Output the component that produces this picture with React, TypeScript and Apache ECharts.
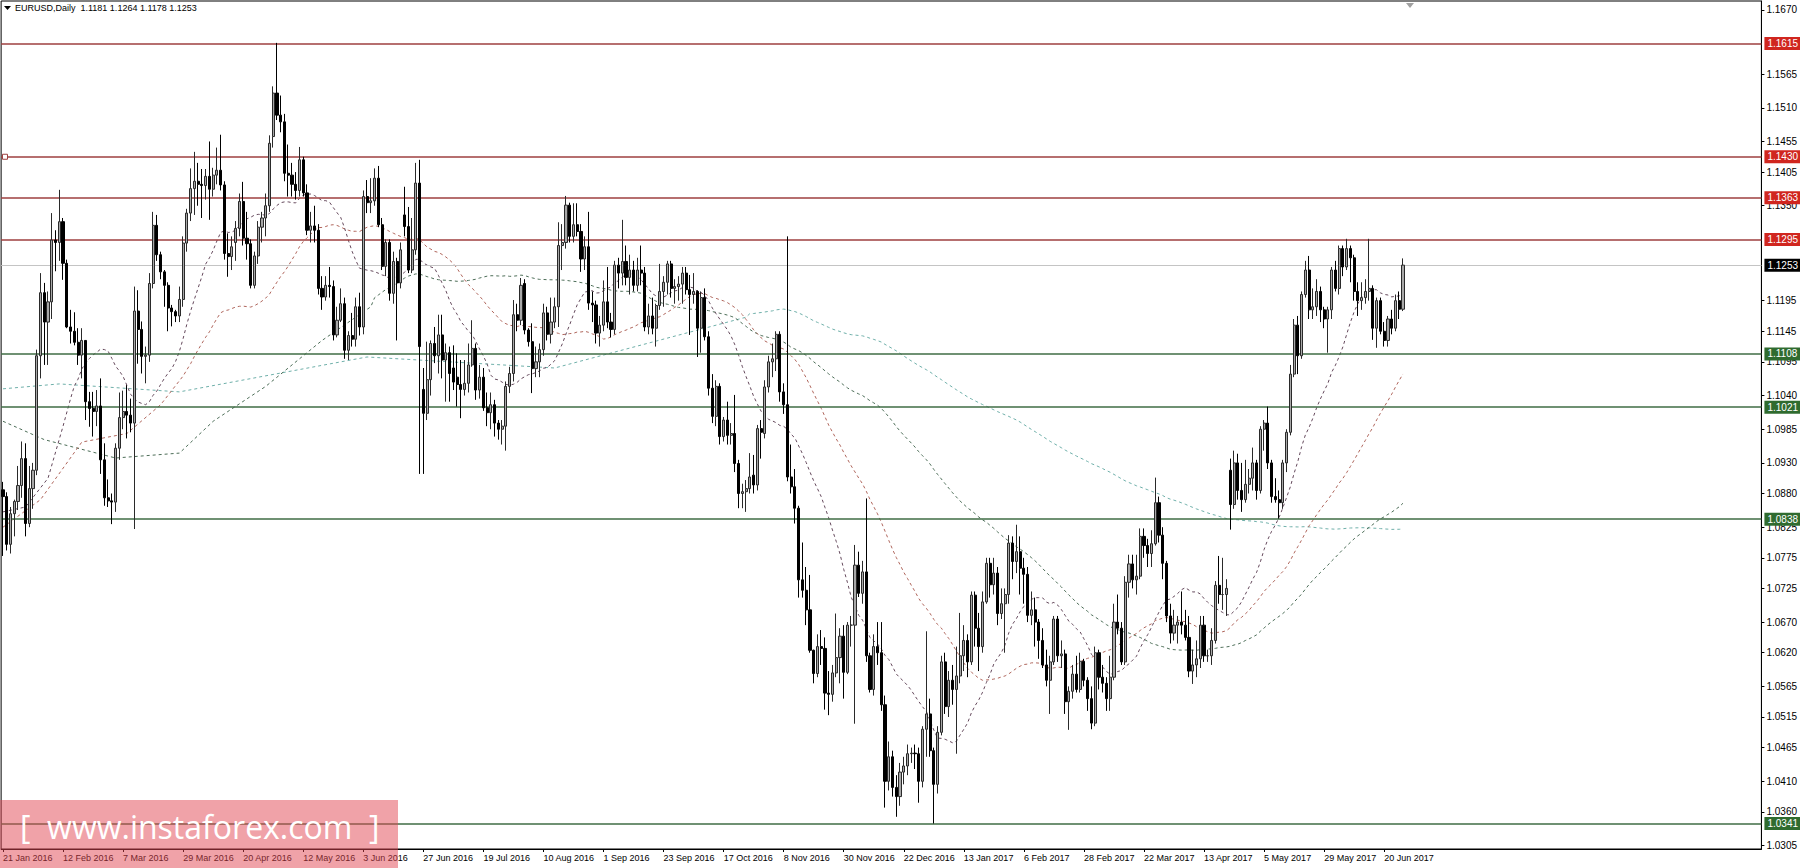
import React, { useEffect, useRef } from "react";
import * as echarts from "echarts";

// ---------- axis texts ----------
const DATE_LABELS = [
  "21 Jan 2016", "12 Feb 2016", "7 Mar 2016", "29 Mar 2016", "20 Apr 2016", "12 May 2016",
  "3 Jun 2016", "27 Jun 2016", "19 Jul 2016", "10 Aug 2016", "1 Sep 2016", "23 Sep 2016",
  "17 Oct 2016", "8 Nov 2016", "30 Nov 2016", "22 Dec 2016", "13 Jan 2017", "6 Feb 2017",
  "28 Feb 2017", "22 Mar 2017", "13 Apr 2017", "5 May 2017", "29 May 2017", "20 Jun 2017",
];
const BARS_PER_LABEL = 16;
const SLOT_COUNT = 469;

const Y_TICKS = [
  1.167, 1.1565, 1.151, 1.1455, 1.1405, 1.135, 1.1195, 1.1145, 1.1095, 1.104, 1.0985, 1.093,
  1.088, 1.0825, 1.0775, 1.0725, 1.067, 1.062, 1.0565, 1.0515, 1.0465, 1.041, 1.036, 1.0305,
];
const Y_MIN = 1.02994;
const Y_MAX = 1.16844;

const RED_LEVELS = [1.1615, 1.143, 1.1363, 1.1295];
const GREEN_LEVELS = [1.1108, 1.1021, 1.0838, 1.0341];
const BID_LEVEL = 1.1253;

const TITLE = "EURUSD,Daily  1.1181 1.1264 1.1178 1.1253";

// ---------- daily candles [open, high, low, close] ----------
const JAN16 = [
  [1.0886, 1.0899, 1.0778, 1.0875], [1.0875, 1.0882, 1.0787, 1.0797], [1.0797, 1.0858, 1.0782, 1.0847],
  [1.0847, 1.087, 1.081, 1.0867], [1.0867, 1.0925, 1.0853, 1.0893], [1.0893, 1.0965, 1.0873, 1.0937],
  [1.0937, 1.0962, 1.081, 1.0831],
];
const FEB16 = [
  [1.0831, 1.0925, 1.0825, 1.0888], [1.0888, 1.093, 1.0855, 1.0918], [1.0918, 1.1115, 1.091, 1.1105],
  [1.1105, 1.124, 1.1068, 1.1208], [1.1208, 1.1224, 1.109, 1.116], [1.116, 1.121, 1.109, 1.1193],
  [1.1193, 1.1338, 1.1165, 1.1294], [1.1294, 1.131, 1.1243, 1.129], [1.129, 1.1376, 1.126, 1.1324],
  [1.1324, 1.133, 1.1229, 1.1256], [1.1256, 1.1262, 1.115, 1.1152], [1.1152, 1.118, 1.1125, 1.1145],
  [1.1145, 1.1176, 1.1122, 1.1127], [1.1127, 1.115, 1.109, 1.1106], [1.1106, 1.115, 1.1068, 1.113],
  [1.113, 1.113, 1.1, 1.103], [1.103, 1.1046, 1.0989, 1.1019], [1.1019, 1.1046, 1.0973, 1.1014],
  [1.1014, 1.1049, 1.099, 1.1023], [1.1023, 1.1068, 1.0912, 1.0935], [1.0935, 1.0962, 1.086, 1.0873],
];
const MAR16 = [
  [1.0873, 1.0903, 1.0858, 1.0868], [1.0868, 1.088, 1.083, 1.0866], [1.0866, 1.0962, 1.085, 1.0954],
  [1.0954, 1.1045, 1.0935, 1.1004], [1.1004, 1.1048, 1.0985, 1.1014], [1.1014, 1.1057, 1.097, 1.1008],
  [1.1008, 1.1035, 1.098, 1.0995], [1.0995, 1.1218, 1.0822, 1.1178], [1.1178, 1.1212, 1.1092, 1.1148],
  [1.1148, 1.1161, 1.1076, 1.1104], [1.1104, 1.112, 1.106, 1.1106], [1.1106, 1.124, 1.1095, 1.1223],
  [1.1223, 1.134, 1.1215, 1.1318], [1.1318, 1.1335, 1.126, 1.127], [1.127, 1.1275, 1.123, 1.1242],
  [1.1242, 1.1245, 1.1185, 1.122], [1.122, 1.1225, 1.1145, 1.1183], [1.1183, 1.1188, 1.1153, 1.1177],
  [1.1177, 1.118, 1.116, 1.117], [1.117, 1.1218, 1.116, 1.1197], [1.1197, 1.13, 1.1185, 1.1289],
  [1.1289, 1.1345, 1.1275, 1.1338], [1.1338, 1.1411, 1.1325, 1.1378],
];
const APR16 = [
  [1.1378, 1.1438, 1.1335, 1.139], [1.139, 1.142, 1.135, 1.1385], [1.1385, 1.141, 1.133, 1.1383],
  [1.1383, 1.141, 1.136, 1.1398], [1.1398, 1.1455, 1.1327, 1.1377], [1.1377, 1.1412, 1.1365, 1.14],
  [1.14, 1.1445, 1.1385, 1.1408], [1.1408, 1.1466, 1.1375, 1.1384], [1.1384, 1.139, 1.1262, 1.1272],
  [1.1272, 1.1305, 1.1234, 1.1267], [1.1267, 1.13, 1.1245, 1.1283], [1.129, 1.1325, 1.126, 1.1313],
  [1.1313, 1.137, 1.13, 1.1357], [1.1357, 1.1389, 1.1285, 1.1297], [1.1297, 1.134, 1.1262, 1.1288],
  [1.1288, 1.1295, 1.1215, 1.122], [1.122, 1.1275, 1.1215, 1.1268], [1.1268, 1.1325, 1.1255, 1.1315],
  [1.1315, 1.134, 1.129, 1.133], [1.133, 1.137, 1.13, 1.135], [1.135, 1.1465, 1.134, 1.1452],
];
const MAY16 = [
  [1.1463, 1.1545, 1.1445, 1.1534], [1.1534, 1.1616, 1.149, 1.1498], [1.1498, 1.153, 1.147, 1.1487],
  [1.1487, 1.15, 1.139, 1.1403], [1.1403, 1.145, 1.1365, 1.14], [1.14, 1.142, 1.1365, 1.1385],
  [1.1385, 1.1405, 1.136, 1.1375], [1.1375, 1.1446, 1.1365, 1.1425], [1.1425, 1.143, 1.1365, 1.1371],
  [1.1371, 1.1385, 1.1302, 1.131], [1.131, 1.134, 1.129, 1.1317], [1.1317, 1.135, 1.129, 1.131],
  [1.131, 1.132, 1.1205, 1.1215], [1.1215, 1.1235, 1.118, 1.1201], [1.1201, 1.1235, 1.1195, 1.122],
  [1.122, 1.125, 1.12, 1.1218], [1.1218, 1.1228, 1.113, 1.1139], [1.1139, 1.1185, 1.1135, 1.1163],
  [1.1163, 1.1215, 1.116, 1.119], [1.119, 1.12, 1.11, 1.1114], [1.1114, 1.1145, 1.1098, 1.1138],
  [1.1138, 1.1175, 1.112, 1.1132],
];
const JUN16 = [
  [1.1132, 1.12, 1.112, 1.1185], [1.1185, 1.1208, 1.1138, 1.1152], [1.1152, 1.1375, 1.114, 1.1365],
  [1.1365, 1.1392, 1.1338, 1.1355], [1.1355, 1.1395, 1.1338, 1.1358], [1.1358, 1.1411, 1.135, 1.1395],
  [1.1395, 1.1415, 1.1315, 1.1319], [1.1319, 1.133, 1.1245, 1.1251], [1.1251, 1.1295, 1.1235, 1.129],
  [1.129, 1.1295, 1.1195, 1.1207], [1.1207, 1.1275, 1.119, 1.1259], [1.1259, 1.1265, 1.113, 1.1224],
  [1.1224, 1.129, 1.1215, 1.1278], [1.1335, 1.1381, 1.13, 1.1316], [1.1316, 1.1348, 1.124, 1.1245],
  [1.1245, 1.133, 1.124, 1.1278], [1.1278, 1.142, 1.127, 1.1387], [1.1387, 1.1425, 1.0912, 1.112],
  [1.105, 1.1085, 1.0912, 1.1011], [1.1011, 1.1128, 1.1, 1.1066], [1.1066, 1.113, 1.104, 1.1125],
  [1.1125, 1.1152, 1.1093, 1.1105],
];
const JUL16 = [
  [1.1105, 1.1172, 1.1076, 1.1139], [1.1139, 1.1172, 1.1068, 1.1098], [1.1098, 1.1125, 1.103, 1.111],
  [1.111, 1.112, 1.103, 1.1076], [1.1085, 1.1122, 1.1049, 1.1062], [1.107, 1.1109, 1.1022, 1.1058],
  [1.1058, 1.1098, 1.1003, 1.105], [1.105, 1.1098, 1.104, 1.106], [1.106, 1.1125, 1.1045, 1.109],
  [1.109, 1.1163, 1.1087, 1.1117], [1.1117, 1.1125, 1.1033, 1.1049], [1.1049, 1.109, 1.1035, 1.107],
  [1.107, 1.1085, 1.1015, 1.102], [1.102, 1.1045, 1.099, 1.1012], [1.1012, 1.1045, 1.0985, 1.1025],
  [1.1025, 1.1033, 1.0973, 1.0995], [1.0995, 1.1, 1.0968, 1.0985], [1.0985, 1.1, 1.096, 1.099],
  [1.099, 1.1063, 1.095, 1.1055], [1.1055, 1.1087, 1.1044, 1.1076], [1.1076, 1.1196, 1.1063, 1.1172],
];
const AUG16 = [
  [1.1172, 1.119, 1.1145, 1.1163], [1.1163, 1.1232, 1.1155, 1.122], [1.1223, 1.123, 1.114, 1.1147],
  [1.1147, 1.115, 1.112, 1.1128], [1.1128, 1.1158, 1.1044, 1.1084], [1.1084, 1.112, 1.107, 1.1095],
  [1.1095, 1.1125, 1.107, 1.1115], [1.1115, 1.119, 1.1105, 1.1175], [1.1175, 1.1185, 1.113, 1.114],
  [1.114, 1.12, 1.1125, 1.116], [1.116, 1.12, 1.115, 1.1185], [1.1185, 1.1323, 1.1152, 1.1285],
  [1.1285, 1.132, 1.1245, 1.129], [1.129, 1.1366, 1.128, 1.1351], [1.1351, 1.1355, 1.129, 1.13],
  [1.13, 1.1354, 1.129, 1.1319], [1.1319, 1.1354, 1.13, 1.1308], [1.1308, 1.132, 1.1242, 1.1263],
  [1.1263, 1.13, 1.1245, 1.1283], [1.1283, 1.134, 1.118, 1.1191], [1.1191, 1.121, 1.116, 1.1188],
  [1.1188, 1.1195, 1.1125, 1.1142], [1.1142, 1.117, 1.112, 1.1155],
];
const SEP16 = [
  [1.1155, 1.1228, 1.1145, 1.1193], [1.1193, 1.125, 1.115, 1.116], [1.116, 1.1175, 1.1135, 1.1148],
  [1.1148, 1.126, 1.114, 1.1253], [1.1253, 1.1265, 1.1215, 1.124], [1.124, 1.1327, 1.122, 1.1259],
  [1.1259, 1.1285, 1.122, 1.1233], [1.1233, 1.127, 1.1205, 1.1245], [1.1245, 1.126, 1.121, 1.122],
  [1.122, 1.1265, 1.121, 1.1245], [1.1245, 1.1285, 1.122, 1.124], [1.124, 1.125, 1.1145, 1.1152],
  [1.1152, 1.119, 1.114, 1.117], [1.117, 1.12, 1.114, 1.115], [1.115, 1.119, 1.112, 1.1187],
  [1.1187, 1.1255, 1.118, 1.121], [1.121, 1.1235, 1.1185, 1.1225], [1.1225, 1.126, 1.1205, 1.1255],
  [1.1255, 1.126, 1.12, 1.1215], [1.1215, 1.123, 1.119, 1.1218], [1.1218, 1.1235, 1.1195, 1.1222],
  [1.1222, 1.125, 1.119, 1.124],
];
const OCT16 = [
  [1.124, 1.125, 1.1205, 1.1213], [1.1213, 1.1237, 1.1139, 1.1205], [1.1205, 1.124, 1.119, 1.121],
  [1.121, 1.1212, 1.1103, 1.115], [1.115, 1.121, 1.111, 1.12], [1.12, 1.1215, 1.113, 1.1136],
  [1.1136, 1.1145, 1.104, 1.1052], [1.1052, 1.1075, 1.0995, 1.1006], [1.1006, 1.1065, 1.099, 1.1055],
  [1.1055, 1.106, 1.096, 1.0973], [1.0973, 1.1005, 1.0965, 1.1], [1.1, 1.103, 1.096, 1.0975],
  [1.0975, 1.0995, 1.096, 1.0978], [1.0978, 1.1041, 1.0915, 1.0929], [1.0929, 1.0935, 1.0856, 1.088],
  [1.088, 1.0896, 1.0856, 1.0883], [1.0883, 1.0902, 1.085, 1.0888], [1.0888, 1.0946, 1.088, 1.0907],
  [1.091, 1.0943, 1.088, 1.0894], [1.0894, 1.0992, 1.0885, 1.0986], [1.0986, 1.1, 1.0937, 1.098],
];
const NOV16 = [
  [1.0978, 1.1065, 1.097, 1.1054], [1.1054, 1.1105, 1.1045, 1.1095], [1.1095, 1.1125, 1.107, 1.11],
  [1.11, 1.1145, 1.108, 1.114], [1.114, 1.1145, 1.103, 1.1046], [1.1046, 1.106, 1.101, 1.1025],
  [1.1025, 1.13, 1.09, 1.0907], [1.0907, 1.096, 1.088, 1.0891], [1.0891, 1.092, 1.0831, 1.0856],
  [1.0856, 1.086, 1.071, 1.0739], [1.0739, 1.08, 1.071, 1.0722], [1.0722, 1.076, 1.0665, 1.069],
  [1.069, 1.0747, 1.062, 1.0624], [1.0624, 1.0625, 1.057, 1.0586], [1.0586, 1.065, 1.058, 1.063],
  [1.063, 1.0657, 1.06, 1.0627], [1.0627, 1.0645, 1.0527, 1.0554], [1.0554, 1.059, 1.0518, 1.0552],
  [1.0552, 1.06, 1.054, 1.0587], [1.0587, 1.0684, 1.058, 1.0612], [1.0612, 1.066, 1.057, 1.0647],
  [1.0647, 1.0665, 1.0545, 1.0588],
];
const DEC16 = [
  [1.0588, 1.067, 1.0585, 1.0665], [1.0665, 1.068, 1.063, 1.0665], [1.0665, 1.0796, 1.0504, 1.0763],
  [1.0763, 1.0785, 1.0711, 1.0717], [1.0717, 1.077, 1.07, 1.0752], [1.0752, 1.0872, 1.0605, 1.0615],
  [1.0615, 1.062, 1.0555, 1.056], [1.056, 1.065, 1.055, 1.063], [1.063, 1.067, 1.06, 1.062],
  [1.062, 1.067, 1.0525, 1.0535], [1.0535, 1.055, 1.0367, 1.041], [1.041, 1.0475, 1.0395, 1.045],
  [1.045, 1.046, 1.0385, 1.04], [1.04, 1.042, 1.0352, 1.0385], [1.0385, 1.044, 1.037, 1.0425],
  [1.0425, 1.045, 1.0405, 1.0435], [1.0435, 1.047, 1.042, 1.0455], [1.0455, 1.0465, 1.044, 1.0456],
  [1.0456, 1.047, 1.043, 1.0455], [1.0455, 1.0465, 1.0375, 1.041], [1.041, 1.05, 1.04, 1.0495],
  [1.0495, 1.0655, 1.045, 1.052],
];
const JAN17 = [
  [1.052, 1.0545, 1.045, 1.046], [1.046, 1.0465, 1.0341, 1.0405], [1.0405, 1.05, 1.039, 1.049],
  [1.049, 1.0615, 1.0485, 1.0605], [1.0605, 1.062, 1.052, 1.0532], [1.0532, 1.059, 1.0515, 1.0575],
  [1.0575, 1.06, 1.0535, 1.056], [1.056, 1.063, 1.0455, 1.0582], [1.0582, 1.0685, 1.057, 1.0615],
  [1.0615, 1.0665, 1.059, 1.064], [1.064, 1.065, 1.058, 1.0605], [1.0605, 1.072, 1.06, 1.0714],
  [1.0714, 1.072, 1.063, 1.066], [1.066, 1.0685, 1.059, 1.063], [1.063, 1.072, 1.062, 1.0703],
  [1.0703, 1.0775, 1.07, 1.0766], [1.0766, 1.0775, 1.071, 1.0731], [1.0731, 1.0775, 1.0715, 1.075],
  [1.075, 1.076, 1.0665, 1.0684], [1.0684, 1.0725, 1.0675, 1.07], [1.07, 1.0725, 1.062, 1.0715],
  [1.0715, 1.0812, 1.07, 1.0799],
];
const FEB17 = [
  [1.0799, 1.081, 1.074, 1.0769], [1.0769, 1.0829, 1.075, 1.0785], [1.0785, 1.081, 1.0715, 1.0758],
  [1.0758, 1.0775, 1.07, 1.0748], [1.0748, 1.076, 1.067, 1.0681], [1.0681, 1.072, 1.0665, 1.069],
  [1.069, 1.071, 1.063, 1.067], [1.067, 1.0675, 1.061, 1.064], [1.064, 1.066, 1.0595, 1.06],
  [1.06, 1.0625, 1.0565, 1.0575], [1.0575, 1.0615, 1.052, 1.0605], [1.0605, 1.068, 1.06, 1.0675],
  [1.0675, 1.068, 1.0605, 1.0615], [1.0615, 1.064, 1.0595, 1.0618], [1.0618, 1.0625, 1.052, 1.054],
  [1.054, 1.0565, 1.0494, 1.0557], [1.0557, 1.06, 1.0545, 1.0585], [1.0585, 1.0615, 1.0555, 1.056],
  [1.056, 1.062, 1.0555, 1.0606], [1.0606, 1.061, 1.0565, 1.0575],
];
const MAR17 = [
  [1.0575, 1.058, 1.0525, 1.0545], [1.0545, 1.0565, 1.0495, 1.0505], [1.0505, 1.063, 1.05, 1.062],
  [1.062, 1.0625, 1.056, 1.058], [1.058, 1.06, 1.0555, 1.057], [1.057, 1.058, 1.0525, 1.0545],
  [1.0545, 1.0615, 1.0525, 1.058], [1.058, 1.07, 1.0575, 1.067], [1.067, 1.0715, 1.065, 1.066],
  [1.066, 1.067, 1.06, 1.0605], [1.0605, 1.0745, 1.06, 1.0735], [1.0735, 1.078, 1.071, 1.0765],
  [1.0765, 1.078, 1.0725, 1.0739], [1.0739, 1.078, 1.0715, 1.0745], [1.0745, 1.0823, 1.074, 1.081],
  [1.081, 1.0823, 1.0775, 1.0795], [1.0795, 1.0806, 1.076, 1.0782], [1.0782, 1.082, 1.076, 1.0798],
  [1.0798, 1.0906, 1.0795, 1.0865], [1.0865, 1.0875, 1.08, 1.0812], [1.0812, 1.0825, 1.074, 1.0766],
  [1.0766, 1.077, 1.067, 1.068], [1.068, 1.07, 1.0635, 1.0652],
];
const APR17 = [
  [1.0652, 1.069, 1.064, 1.0665], [1.0665, 1.068, 1.0635, 1.067], [1.067, 1.072, 1.065, 1.0665],
  [1.0665, 1.069, 1.064, 1.0645], [1.0645, 1.068, 1.058, 1.059], [1.059, 1.0625, 1.0569, 1.06],
  [1.06, 1.064, 1.058, 1.061], [1.061, 1.068, 1.0595, 1.0665], [1.0665, 1.068, 1.0605, 1.0615],
  [1.0615, 1.0625, 1.0605, 1.0615], [1.0615, 1.066, 1.06, 1.064], [1.064, 1.0737, 1.0635, 1.073],
  [1.073, 1.0778, 1.07, 1.0715], [1.0715, 1.0775, 1.069, 1.0715], [1.0715, 1.074, 1.068, 1.0725],
  [1.0918, 1.0937, 1.0821, 1.0862], [1.0862, 1.095, 1.0855, 1.093], [1.093, 1.0945, 1.087, 1.0885],
  [1.0885, 1.093, 1.085, 1.087], [1.087, 1.0935, 1.0865, 1.0895],
];
const MAY17 = [
  [1.0895, 1.092, 1.088, 1.0905], [1.0905, 1.0955, 1.0885, 1.093], [1.093, 1.0935, 1.087, 1.0885],
  [1.0885, 1.099, 1.088, 1.0985], [1.0985, 1.1, 1.095, 1.0995], [1.0995, 1.1022, 1.092, 1.093],
  [1.093, 1.0935, 1.0865, 1.0875], [1.0875, 1.0905, 1.0865, 1.087], [1.087, 1.0885, 1.0839, 1.0865],
  [1.0865, 1.0935, 1.0855, 1.093], [1.093, 1.0985, 1.0915, 1.098], [1.098, 1.109, 1.0975, 1.1075],
  [1.1075, 1.1165, 1.107, 1.1155], [1.1155, 1.117, 1.1075, 1.1105], [1.1105, 1.121, 1.11, 1.1205],
  [1.1205, 1.126, 1.12, 1.1245], [1.1245, 1.1268, 1.1165, 1.118], [1.118, 1.1215, 1.1165, 1.1185],
  [1.1185, 1.123, 1.117, 1.121], [1.121, 1.1218, 1.116, 1.118], [1.118, 1.1185, 1.115, 1.1165],
  [1.1165, 1.1185, 1.111, 1.118], [1.118, 1.125, 1.1165, 1.1245],
];
const JUN17 = [
  [1.1245, 1.126, 1.121, 1.1215], [1.1215, 1.1285, 1.1205, 1.128], [1.128, 1.1285, 1.1235, 1.125],
  [1.125, 1.1296, 1.1245, 1.128], [1.128, 1.1285, 1.1225, 1.1265], [1.1265, 1.127, 1.1195, 1.121],
  [1.121, 1.1225, 1.117, 1.1195], [1.1195, 1.1225, 1.118, 1.12], [1.12, 1.123, 1.119, 1.121],
  [1.121, 1.1296, 1.1195, 1.1215], [1.1215, 1.122, 1.1131, 1.115], [1.115, 1.12, 1.1118, 1.1195],
  [1.1195, 1.12, 1.114, 1.1145], [1.1145, 1.116, 1.112, 1.113], [1.113, 1.117, 1.112, 1.1165],
  [1.1165, 1.118, 1.114, 1.115], [1.115, 1.1205, 1.1145, 1.1195], [1.1195, 1.121, 1.1165, 1.1181],
  [1.1181, 1.1264, 1.1178, 1.1253],
];

// ---------- moving-average values read off the chart where their history is off-screen ----------
// [bar index, value]
const MA20_EARLY = [[0, 1.085], [6, 1.0858], [12, 1.0905], [16, 1.099], [18, 1.1035]];
const MA50_EARLY = [[0, 1.0825], [10, 1.087], [21, 1.0964], [33, 1.0978], [42, 1.1025], [48, 1.1072]];
const MA100_EARLY = [[0, 1.0998], [11, 1.0968], [30, 1.0938], [47, 1.0946], [56, 1.0998], [70, 1.1055], [85, 1.113], [98, 1.1185]];
const MA200_EARLY = [[0, 1.1051], [15, 1.1059], [47, 1.1046], [97, 1.1103], [147, 1.1085], [198, 1.1168]];

const OHLC = [
  ...JAN16, ...FEB16, ...MAR16, ...APR16, ...MAY16, ...JUN16, ...JUL16, ...AUG16, ...SEP16,
  ...OCT16, ...NOV16, ...DEC16, ...JAN17, ...FEB17, ...MAR17, ...APR17, ...MAY17, ...JUN17,
];

function movingAverage(closes: number[], n: number, early: number[][]) {
  const out: (number | null)[] = new Array(closes.length).fill(null);
  early.forEach(([i, v]) => { out[i] = v; });
  let sum = 0;
  for (let i = 0; i < closes.length; i++) {
    sum += closes[i];
    if (i >= n) sum -= closes[i - n];
    if (i >= n - 1) out[i] = +(sum / n).toFixed(5);
  }
  return out;
}

const RED_LINE = "#9e3f3f";
const RED_BOX = "#d0261f";
const GREEN_LINE = "#3f6d45";
const GREEN_BOX = "#2f6b2f";
const FONT = "Liberation Sans, Arial, sans-serif";

export default function App() {
  const ref = useRef<HTMLDivElement>(null);

  useEffect(() => {
    if (!ref.current) return;
    const chart = echarts.init(ref.current, undefined, { renderer: "svg" });

    const cats: string[] = [];
    for (let i = 0; i < SLOT_COUNT; i++) {
      const k = i / BARS_PER_LABEL;
      cats.push(i % BARS_PER_LABEL === 0 && k < DATE_LABELS.length ? DATE_LABELS[k] : "");
    }
    const closes = OHLC.map((d) => d[3]);
    const candles = OHLC.map(([o, h, l, c]) => [o, c, l, h]);

    const ma = (n: number, early: number[][], color: string) => ({
      type: "line",
      data: movingAverage(closes, n, early),
      connectNulls: true,
      showSymbol: false,
      symbol: "none",
      silent: true,
      z: 3,
      lineStyle: { color, width: 1, type: [3, 3] },
    });

    const levelLine = (v: number, line: string, box: string, w: number) => ({
      yAxis: v,
      lineStyle: { color: line, width: w, type: "solid" },
      label: {
        show: true,
        position: "end",
        formatter: v.toFixed(4),
        backgroundColor: box,
        color: "#fff",
        fontSize: 10,
        fontFamily: FONT,
        padding: [2, 3, 1, 3],
        distance: 3,
      },
    });

    chart.setOption({
      animation: false,
      backgroundColor: "#fff",
      grid: { left: 1, right: 35, top: 1, bottom: 19, show: true, borderColor: "#000", borderWidth: 1 },
      xAxis: {
        type: "category",
        data: cats,
        boundaryGap: true,
        axisLine: { show: true, lineStyle: { color: "#000" } },
        axisTick: {
          show: true,
          length: 3,
          alignWithLabel: true,
          interval: (i: number) => cats[i] !== "",
          lineStyle: { color: "#000" },
        },
        axisLabel: {
          interval: (i: number) => cats[i] !== "",
          align: "left",
          margin: 4,
          fontSize: 9,
          fontFamily: FONT,
          color: "#000",
        },
        splitLine: { show: false },
      },
      yAxis: {
        type: "value",
        position: "right",
        min: Y_MIN,
        max: Y_MAX,
        axisLine: { show: true, lineStyle: { color: "#000" } },
        axisTick: { show: true, length: 3, customValues: Y_TICKS, lineStyle: { color: "#000" } },
        axisLabel: {
          customValues: Y_TICKS,
          formatter: (v: number) => v.toFixed(4),
          fontSize: 10,
          fontFamily: FONT,
          color: "#000",
          margin: 5,
        },
        splitLine: { show: false },
      },
      series: [
        {
          type: "line",
          data: [],
          silent: true,
          z: 2,
          markLine: {
            symbol: ["none", "none"],
            silent: true,
            animation: false,
            precision: 4,
            data: [
              ...RED_LEVELS.map((v) => levelLine(v, RED_LINE, RED_BOX, 1.5)),
              levelLine(BID_LEVEL, "#c4c4c4", "#000", 1),
              ...GREEN_LEVELS.map((v) => levelLine(v, GREEN_LINE, GREEN_BOX, 1.5)),
            ],
          },
        },
        ma(200, MA200_EARLY, "#6fb0aa"),
        ma(100, MA100_EARLY, "#4d6e58"),
        ma(50, MA50_EARLY, "#b0665c"),
        ma(20, MA20_EARLY, "#65495c"),
        {
          type: "candlestick",
          data: candles,
          barWidth: 2.6,
          z: 5,
          itemStyle: {
            color: "#a8a8a8",
            color0: "#000",
            borderColor: "#2a2a2a",
            borderColor0: "#000",
            borderWidth: 1,
          },
          markPoint: {
            silent: true,
            data: [
              {
                coord: [0, RED_LEVELS[1]],
                symbol: "rect",
                symbolSize: 5,
                symbolOffset: [2, 0],
                itemStyle: { color: "#fff", borderColor: RED_LINE, borderWidth: 1 },
                label: { show: false },
              },
            ],
          },
        },
      ],
      graphic: [
        { type: "polygon", shape: { points: [[4, 6], [11, 6], [7.5, 10]] }, style: { fill: "#000" }, z: 10 },
        { type: "text", x: 15, y: 3, style: { text: TITLE, font: `9px ${FONT}`, fill: "#000" }, z: 10 },
        { type: "polygon", shape: { points: [[1406, 3], [1414, 3], [1410, 8]] }, style: { fill: "#a0a0a0" }, z: 10 },
        {
          type: "rect",
          shape: { x: 0, y: 800, width: 398, height: 68 },
          style: { fill: "rgba(226, 70, 82, 0.5)" },
          z: 100,
        },
        {
          type: "text",
          x: 20,
          y: 810,
          style: { text: "[  www.instaforex.com  ]", font: `32px "Open Sans", "DejaVu Sans", sans-serif`, fill: "#fff" },
          z: 101,
        },
      ],
    });

    return () => chart.dispose();
  }, []);

  return (
    <div
      ref={ref}
      style={{ position: "fixed", left: 0, top: 0, width: 1800, height: 868, background: "#fff" }}
    />
  );
}
